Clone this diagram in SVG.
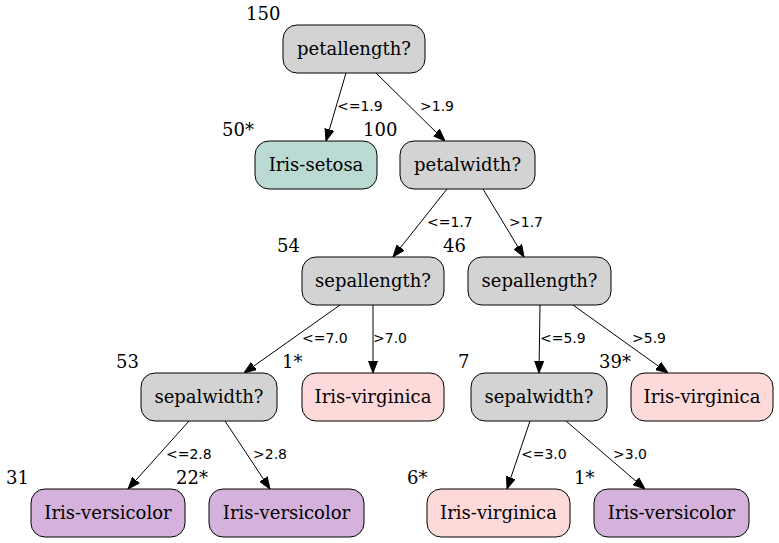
<svg xmlns="http://www.w3.org/2000/svg" width="779" height="543" viewBox="0 0 779 543">
<style>
.n rect{stroke:#000;stroke-width:1;}
.q rect{fill:#d3d3d3;}
.se rect{fill:#bbdad4;}
.vi rect{fill:#fdd9d9;}
.ve rect{fill:#d5b2dc;}
.n text{font-family:"DejaVu Serif",serif;font-size:18px;text-anchor:middle;fill:#000;}
.x{font-family:"DejaVu Serif",serif;font-size:18px;fill:#000;}
.e line{stroke:#000;stroke-width:1;marker-end:url(#ah);}
.e text{font-family:"DejaVu Sans",sans-serif;font-size:14px;fill:#000;}
</style>
<defs>
<marker id="ah" markerUnits="userSpaceOnUse" markerWidth="12" markerHeight="10" refX="12" refY="5" orient="auto">
<path d="M0,0.5 L12,5 L0,9.5 z" fill="#000" stroke="#000" stroke-width="1"/>
</marker>
</defs>
<rect width="779" height="543" fill="#fff"/>
<g id="edges" class="e">
<line x1="346" y1="73" x2="326" y2="141"/><text x="337" y="111">&lt;=1.9</text>
<line x1="376" y1="73" x2="445" y2="141"/><text x="420" y="111">&gt;1.9</text>
<line x1="447" y1="189" x2="393" y2="257"/><text x="427" y="227">&lt;=1.7</text>
<line x1="483" y1="189" x2="524" y2="257"/><text x="509" y="227">&gt;1.7</text>
<line x1="340" y1="305" x2="244" y2="373"/><text x="302" y="343">&lt;=7.0</text>
<line x1="373" y1="305" x2="373" y2="373"/><text x="373" y="343">&gt;7.0</text>
<line x1="540" y1="305" x2="539" y2="373"/><text x="540" y="343">&lt;=5.9</text>
<line x1="573" y1="305" x2="668" y2="373"/><text x="632" y="343">&gt;5.9</text>
<line x1="189" y1="421" x2="128" y2="489"/><text x="166" y="459">&lt;=2.8</text>
<line x1="225" y1="421" x2="270" y2="489"/><text x="253" y="459">&gt;2.8</text>
<line x1="530" y1="421" x2="507" y2="489"/><text x="521" y="459">&lt;=3.0</text>
<line x1="566" y1="421" x2="645" y2="489"/><text x="613" y="459">&gt;3.0</text>
</g>
<g id="n0" class="n q"><rect x="283" y="25" width="142" height="48" rx="14"/><text x="354" y="55">petallength?</text><text class="x" x="246" y="20" style="text-anchor:start">150</text></g>
<g id="n1" class="n se"><rect x="255" y="141" width="122" height="48" rx="14"/><text x="316" y="171">Iris-setosa</text><text class="x" x="222" y="136" style="text-anchor:start">50*</text></g>
<g id="n2" class="n q"><rect x="400" y="141" width="135" height="48" rx="14"/><text x="467.5" y="171">petalwidth?</text><text class="x" x="363" y="136" style="text-anchor:start">100</text></g>
<g id="n3" class="n q"><rect x="302" y="257" width="142" height="48" rx="14"/><text x="373" y="287">sepallength?</text><text class="x" x="277" y="252" style="text-anchor:start">54</text></g>
<g id="n4" class="n q"><rect x="468" y="257" width="143" height="48" rx="14"/><text x="539.5" y="287">sepallength?</text><text class="x" x="443" y="252" style="text-anchor:start">46</text></g>
<g id="n5" class="n q"><rect x="141" y="373" width="136" height="48" rx="14"/><text x="209" y="403">sepalwidth?</text><text class="x" x="116" y="368" style="text-anchor:start">53</text></g>
<g id="n6" class="n vi"><rect x="302" y="373" width="142" height="48" rx="14"/><text x="373" y="403">Iris-virginica</text><text class="x" x="282" y="368" style="text-anchor:start">1*</text></g>
<g id="n7" class="n q"><rect x="471" y="373" width="136" height="48" rx="14"/><text x="539" y="403">sepalwidth?</text><text class="x" x="458" y="368" style="text-anchor:start">7</text></g>
<g id="n8" class="n vi"><rect x="631" y="373" width="142" height="48" rx="14"/><text x="702" y="403">Iris-virginica</text><text class="x" x="599" y="368" style="text-anchor:start">39*</text></g>
<g id="n9" class="n ve"><rect x="31" y="489" width="154" height="48" rx="14"/><text x="108" y="519">Iris-versicolor</text><text class="x" x="6" y="484" style="text-anchor:start">31</text></g>
<g id="n10" class="n ve"><rect x="209" y="489" width="155" height="48" rx="14"/><text x="286.5" y="519">Iris-versicolor</text><text class="x" x="176" y="484" style="text-anchor:start">22*</text></g>
<g id="n11" class="n vi"><rect x="427" y="489" width="143" height="48" rx="14"/><text x="498.5" y="519">Iris-virginica</text><text class="x" x="407" y="484" style="text-anchor:start">6*</text></g>
<g id="n12" class="n ve"><rect x="594" y="489" width="155" height="48" rx="14"/><text x="671.5" y="519">Iris-versicolor</text><text class="x" x="574" y="484" style="text-anchor:start">1*</text></g>
</svg>
